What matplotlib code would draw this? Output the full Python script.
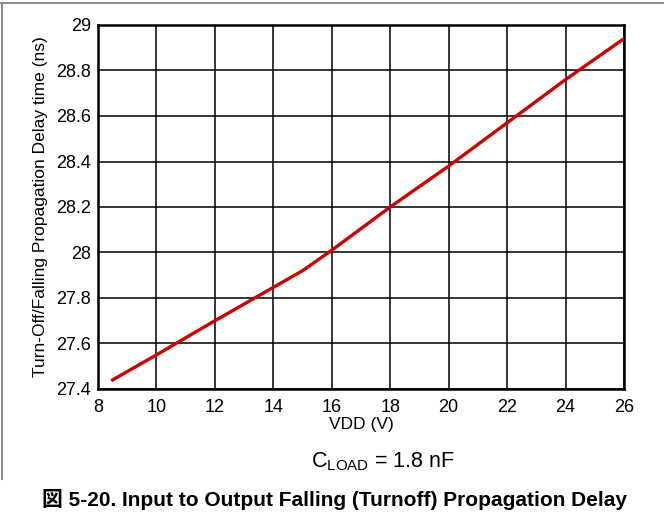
import matplotlib.pyplot as plt
from matplotlib.lines import Line2D

# supply voltage (V) and turn-off propagation delay (ns)
vdd = [8.5, 10, 12, 15, 16, 18, 20, 22, 24, 26]
delay = [27.44, 27.55, 27.70, 27.92, 28.01, 28.20, 28.38, 28.57, 28.76, 28.94]
xticks = [8, 10, 12, 14, 16, 18, 20, 22, 24, 26]
yticks = [27.4, 27.6, 27.8, 28, 28.2, 28.4, 28.6, 28.8, 29]
ylabels = ['27.4', '27.6', '27.8', '28', '28.2', '28.4', '28.6', '28.8', '29']

plt.rcParams['font.family'] = ['Liberation Sans', 'Noto Sans CJK JP', 'DejaVu Sans']

W, H = 664, 516
fig = plt.figure(figsize=(W / 100, H / 100), dpi=100)
ax = fig.add_axes([98 / W, 1 - 389 / H, (624 - 98) / W, (389 - 25) / H])

ax.plot(vdd, delay, color='#cc0000', lw=2.4, zorder=3)

ax.set_xlim(8, 26)
ax.set_ylim(27.4, 29)
ax.set_xticks(xticks)
ax.set_yticks(yticks)
ax.set_yticklabels(ylabels)
ax.grid(True, color='black', lw=1.1)
ax.tick_params(length=0, labelsize=13)
ax.tick_params(axis='x', pad=7)
ax.tick_params(axis='y', pad=5)
for s in ax.spines.values():
    s.set_linewidth(1.8)

ax.set_xlabel('VDD (V)', fontsize=12.5, labelpad=1)
ax.set_ylabel('Turn-Off/Falling Propagation Delay time (ns)', fontsize=12.5, labelpad=6)

fig.text(383 / W, 1 - 462 / H, r'C$_{\mathregular{LOAD}}$ = 1.8 nF', fontsize=15.5,
         ha='center', va='center')
fig.text(334 / W, 1 - 500 / H, '図 5-20. Input to Output Falling (Turnoff) Propagation Delay',
         fontsize=15, fontweight='bold', ha='center', va='center')

# outer frame
fig.add_artist(Line2D([0, 1], [1 - 3 / H, 1 - 3 / H], transform=fig.transFigure,
                      color='#8c8c8c', lw=1.5))
fig.add_artist(Line2D([2 / W, 2 / W], [1 - 3 / H, 1 - 479 / H], transform=fig.transFigure,
                      color='#8c8c8c', lw=1.5))

fig.savefig('out.png', dpi=100)
